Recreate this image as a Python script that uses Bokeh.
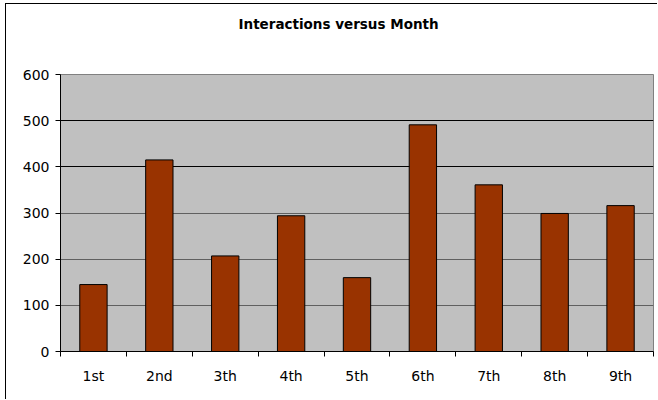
from bokeh.plotting import figure
from bokeh.models import Range1d, FixedTicker, Grid, ColumnDataSource, LinearAxis, Title
from bokeh.embed import file_html
from bokeh.resources import INLINE

months = ["1st", "2nd", "3th", "4th", "5th", "6th", "7th", "8th", "9th"]
interactions = [145, 415, 207, 294, 160, 491, 361, 299, 316]
y_ticks = [0, 100, 200, 300, 400, 500, 600]
title_text = "Interactions versus Month"

FONT = "DejaVu Sans"

x_centers = [i + 0.5 for i in range(len(months))]
x_bounds = [float(i) for i in range(len(months) + 1)]

src = ColumnDataSource(dict(x=x_centers, top=interactions, month=months))

p = figure(width=652, height=396, output_backend="svg", toolbar_location=None,
           x_range=Range1d(0, len(months)), y_range=Range1d(y_ticks[0], y_ticks[-1]),
           min_border_left=54, min_border_right=5, min_border_top=70, min_border_bottom=49,
           x_axis_type=None, y_axis_type=None)

p.background_fill_color = "#C0C0C0"
p.border_fill_color = "white"
p.outline_line_color = "#808080"
p.outline_line_width = 1

p.styles = {"border-left": "1px solid black", "border-top": "1px solid black",
            "margin-left": "5px", "margin-top": "3px"}

p.vbar(x="x", top="top", width=0.415, source=src,
       fill_color="#993300", line_color="black", line_width=1)

# x axis: labels centred in categories, tick marks on category boundaries
xaxis = LinearAxis(ticker=FixedTicker(ticks=x_centers, minor_ticks=x_bounds),
                   major_label_overrides={c: m for c, m in zip(x_centers, months)})
xaxis.major_tick_out = 0
xaxis.major_tick_in = 0
xaxis.minor_tick_out = 5
xaxis.minor_tick_in = 0
xaxis.minor_tick_line_color = "black"
xaxis.axis_line_color = "black"
xaxis.major_label_standoff = 11
xaxis.major_label_text_font = FONT
xaxis.major_label_text_font_size = "14px"
xaxis.major_label_text_color = "black"
p.add_layout(xaxis, "below")

yaxis = LinearAxis(ticker=FixedTicker(ticks=y_ticks, minor_ticks=[]))
yaxis.major_tick_out = 5
yaxis.major_tick_in = 0
yaxis.major_tick_line_color = "black"
yaxis.axis_line_color = "black"
yaxis.major_label_standoff = 6
yaxis.major_label_text_font = FONT
yaxis.major_label_text_font_size = "14px"
yaxis.major_label_text_color = "black"
p.add_layout(yaxis, "left")

p.add_layout(Grid(dimension=1, ticker=FixedTicker(ticks=[100, 200, 300]),
                  grid_line_color="#606060", grid_line_width=1))
p.add_layout(Grid(dimension=1, ticker=FixedTicker(ticks=[400, 500]),
                  grid_line_color="black", grid_line_width=1))

# real title (outer), spacer title between it and the plot area
p.title.text = title_text
p.title.align = "left"
p.title.offset = 178
p.title.standoff = 0
p.title.text_font = FONT
p.title.text_font_size = "13.5px"
p.title.text_font_style = "bold"
p.title.text_color = "black"

spacer = Title(text=" ", standoff=30, text_font=FONT, text_font_size="10px",
               text_color="white")
p.add_layout(spacer, "above")

open("out.html", "w").write(file_html(p, INLINE))
